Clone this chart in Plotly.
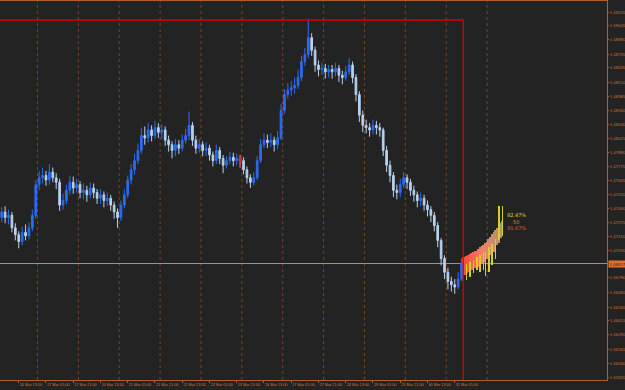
import plotly.graph_objects as go
from datetime import datetime, timedelta

# ---------------- data ----------------
start_time = datetime(2023, 3, 16, 3, 0)   # open time of first bar
bar_hours = 2
first_open = 1.0732

close = [1.0737, 1.0732, 1.0734, 1.0723, 1.0717, 1.0711, 1.0719, 1.0716, 1.0723, 1.0734,
         1.0761, 1.0767, 1.0769, 1.0765, 1.0772, 1.0767, 1.0763, 1.0743, 1.0747, 1.0756,
         1.0763, 1.0758, 1.0761, 1.0754, 1.0756, 1.0752, 1.0758, 1.0754, 1.0749, 1.0752,
         1.0747, 1.0749, 1.0743, 1.0737, 1.0732, 1.0743, 1.0752, 1.0765, 1.0774, 1.0782,
         1.0791, 1.0804, 1.0802, 1.0809, 1.0804, 1.0811, 1.0807, 1.0809, 1.0800, 1.0796,
         1.0791, 1.0796, 1.0793, 1.0800, 1.0804, 1.0813, 1.0800, 1.0793, 1.0796, 1.0791,
         1.0793, 1.0787, 1.0782, 1.0791, 1.0784, 1.0778, 1.0782, 1.0785, 1.0782, 1.0784,
         1.0782, 1.0774, 1.0767, 1.0763, 1.0767, 1.0782, 1.0796, 1.0800, 1.0798, 1.0800,
         1.0796, 1.0802, 1.0826, 1.0840, 1.0844, 1.0846, 1.0848, 1.0855, 1.0869, 1.0875,
         1.0890, 1.0879, 1.0866, 1.0862, 1.0863, 1.0860, 1.0862, 1.0860, 1.0863, 1.0857,
         1.0855, 1.0860, 1.0866, 1.0855, 1.0840, 1.0822, 1.0813, 1.0811, 1.0809, 1.0813,
         1.0811, 1.0809, 1.0791, 1.0778, 1.0769, 1.0756, 1.0754, 1.0761, 1.0767, 1.0763,
         1.0756, 1.0752, 1.0747, 1.0749, 1.0743, 1.0739, 1.0734, 1.0725, 1.0712, 1.0696,
         1.0684, 1.0676, 1.0673, 1.0671, 1.0678, 1.0692]

high = [1.0741, 1.0742, 1.0739, 1.0737, 1.0727, 1.0720, 1.0724, 1.0726, 1.0728, 1.0739,
        1.0765, 1.0773, 1.0776, 1.0773, 1.0779, 1.0776, 1.0771, 1.0766, 1.0753, 1.0761,
        1.0769, 1.0768, 1.0766, 1.0764, 1.0762, 1.0760, 1.0763, 1.0762, 1.0757, 1.0757,
        1.0755, 1.0754, 1.0752, 1.0746, 1.0740, 1.0747, 1.0757, 1.0769, 1.0779, 1.0788,
        1.0797, 1.0811, 1.0812, 1.0815, 1.0813, 1.0817, 1.0815, 1.0814, 1.0812, 1.0804,
        1.0799, 1.0801, 1.0800, 1.0805, 1.0810, 1.0825, 1.0816, 1.0804, 1.0801, 1.0799,
        1.0798, 1.0796, 1.0790, 1.0796, 1.0794, 1.0787, 1.0786, 1.0790, 1.0789, 1.0788,
        1.0787, 1.0785, 1.0777, 1.0770, 1.0772, 1.0786, 1.0801, 1.0806, 1.0805, 1.0806,
        1.0803, 1.0808, 1.0832, 1.0845, 1.0850, 1.0852, 1.0855, 1.0862, 1.0874, 1.0881,
        1.0906, 1.0894, 1.0882, 1.0870, 1.0868, 1.0867, 1.0866, 1.0866, 1.0868, 1.0866,
        1.0861, 1.0865, 1.0872, 1.0869, 1.0858, 1.0843, 1.0826, 1.0818, 1.0815, 1.0818,
        1.0817, 1.0815, 1.0811, 1.0795, 1.0782, 1.0772, 1.0761, 1.0766, 1.0772, 1.0770,
        1.0766, 1.0760, 1.0755, 1.0754, 1.0752, 1.0747, 1.0742, 1.0737, 1.0728, 1.0714,
        1.0699, 1.0688, 1.0680, 1.0678, 1.0684, 1.0696]

low = [1.0728, 1.0727, 1.0726, 1.0719, 1.0712, 1.0705, 1.0708, 1.0712, 1.0713, 1.0720,
       1.0731, 1.0756, 1.0762, 1.0760, 1.0761, 1.0763, 1.0757, 1.0738, 1.0739, 1.0744,
       1.0752, 1.0753, 1.0754, 1.0749, 1.0748, 1.0746, 1.0749, 1.0749, 1.0744, 1.0744,
       1.0741, 1.0742, 1.0738, 1.0731, 1.0723, 1.0729, 1.0740, 1.0749, 1.0761, 1.0770,
       1.0779, 1.0788, 1.0796, 1.0798, 1.0799, 1.0801, 1.0802, 1.0801, 1.0795, 1.0790,
       1.0784, 1.0786, 1.0788, 1.0790, 1.0797, 1.0800, 1.0795, 1.0788, 1.0789, 1.0786,
       1.0786, 1.0782, 1.0777, 1.0779, 1.0779, 1.0771, 1.0775, 1.0779, 1.0777, 1.0778,
       1.0776, 1.0770, 1.0762, 1.0758, 1.0760, 1.0765, 1.0780, 1.0793, 1.0793, 1.0794,
       1.0790, 1.0792, 1.0800, 1.0823, 1.0836, 1.0839, 1.0841, 1.0845, 1.0852, 1.0865,
       1.0872, 1.0874, 1.0860, 1.0856, 1.0857, 1.0854, 1.0855, 1.0854, 1.0856, 1.0851,
       1.0849, 1.0852, 1.0857, 1.0850, 1.0834, 1.0816, 1.0807, 1.0806, 1.0803, 1.0805,
       1.0805, 1.0803, 1.0786, 1.0772, 1.0763, 1.0750, 1.0748, 1.0750, 1.0758, 1.0757,
       1.0751, 1.0746, 1.0741, 1.0742, 1.0738, 1.0733, 1.0728, 1.0720, 1.0706, 1.0690,
       1.0678, 1.0669, 1.0667, 1.0665, 1.0669, 1.0676]

highlight_bar = 70          # the single red candle

tick_labels = ["16 Mar 13:00", "17 Mar 05:00", "17 Mar 21:00", "20 Mar 13:00",
               "21 Mar 05:00", "21 Mar 21:00", "22 Mar 13:00", "23 Mar 05:00",
               "23 Mar 21:00", "24 Mar 13:00", "27 Mar 05:00", "27 Mar 21:00",
               "28 Mar 13:00", "29 Mar 05:00", "29 Mar 21:00", "30 Mar 13:00",
               "31 Mar 05:00"]

price_labels = ["1.09125", "1.09005", "1.08880", "1.08755", "1.08635", "1.08510",
                "1.08385", "1.08260", "1.08140", "1.08015", "1.07890", "1.07770",
                "1.07645", "1.07520", "1.07400", "1.07275", "1.07150", "1.07030",
                "1.06790", "1.06665", "1.06535", "1.06415", "1.06290", "1.06165",
                "1.06040", "1.05920"]

current_price = 1.06917
rect_top = 1.09055

# forecast fan (hourly columns after the last bar)
fan_top = [1.0697, 1.0697, 1.0698, 1.0699, 1.0700, 1.0701, 1.0702, 1.0703, 1.0703, 1.0704,
           1.0706, 1.0707, 1.0708, 1.0710, 1.0711, 1.0713, 1.0715, 1.0718, 1.0719, 1.0721,
           1.0723, 1.0725, 1.0727, 1.0729]
fan_bottom = [1.0682, 1.0682, 1.0683, 1.0684, 1.0685, 1.0686, 1.0687, 1.0688, 1.0688, 1.0689,
              1.0690, 1.0691, 1.0693, 1.0694, 1.0696, 1.0697, 1.0699, 1.0701, 1.0702, 1.0705,
              1.0708, 1.0710, 1.0714, 1.0717]
whisker_cols = [2, 4, 6, 8, 10, 12, 13, 15, 17, 19, 21, 23]
whisker_high = [1.0691, 1.0693, 1.0695, 1.0697, 1.0699, 1.0701, 1.0702, 1.0706, 1.0709,
                1.0713, 1.0742, 1.0742]
whisker_low = [1.0677, 1.0680, 1.0683, 1.0686, 1.0684, 1.0686, 1.0681, 1.0684, 1.0690,
               1.0696, 1.0712, 1.0716]

stats_text = ["92.47%", "50", "91.67%"]
stats_price = [1.07345, 1.07285, 1.07225]

# ---------------- helpers ----------------
def trading_index(t):
    """bar index (2h units) of time t, skipping weekends"""
    h, cur = 0, start_time
    while cur < t:
        if cur.weekday() < 5:
            h += 1
        cur += timedelta(hours=1)
    return h / bar_hours

n = len(close)
opens = [first_open] + close[:-1]
xs = list(range(n))

tick_vals = [trading_index(datetime.strptime("2023 " + s, "%Y %d %b %H:%M")) for s in tick_labels]

x_min, x_max = -0.5, 177.7
y_min, y_max = 1.05894, 1.09222

fan_x = [n - 0.5 + 0.5 * k for k in range(len(fan_top))]
grid_end = fan_x[-1]

grid_x = []
d = datetime(2023, 3, 17)
while True:
    if d.weekday() < 5:
        gx = trading_index(d)
        if gx > grid_end:
            break
        grid_x.append(gx)
    d += timedelta(days=1)

BG = "#232323"
AX = "#b0602c"
TXT = "#c8763c"
FONT = "Liberation Sans"

fig = go.Figure()

fig.add_trace(go.Candlestick(
    x=xs, open=opens, high=high, low=low, close=close,
    increasing=dict(line=dict(color="#2c6cf2", width=1), fillcolor="#2c6cf2"),
    decreasing=dict(line=dict(color="#b8d2ee", width=1), fillcolor="#b8d2ee"),
    whiskerwidth=0, showlegend=False, hoverinfo="skip"))

hb = highlight_bar
fig.add_trace(go.Candlestick(
    x=[hb], open=[opens[hb]], high=[high[hb]], low=[low[hb]], close=[close[hb]],
    increasing=dict(line=dict(color="#e02020", width=1), fillcolor="#e02020"),
    decreasing=dict(line=dict(color="#e02020", width=1), fillcolor="#e02020"),
    whiskerwidth=0, showlegend=False, hoverinfo="skip"))

def lerp(c1, c2, t):
    return tuple(int(round(a + (b - a) * t)) for a, b in zip(c1, c2))

stops = [(255, 72, 52), (240, 130, 100), (168, 150, 118)]
fan_colors = []
m = len(fan_top)
for k in range(m):
    t = k / (m - 1)
    if t < 0.5:
        c = lerp(stops[0], stops[1], t / 0.5)
    else:
        c = lerp(stops[1], stops[2], (t - 0.5) / 0.5)
    fan_colors.append("rgb(%d,%d,%d)" % c)

fig.add_trace(go.Bar(
    x=fan_x, y=[t - b for t, b in zip(fan_top, fan_bottom)], base=fan_bottom,
    width=0.5, marker=dict(color=fan_colors, line=dict(width=0)),
    showlegend=False, hoverinfo="skip"))

fig.add_trace(go.Bar(
    x=[fan_x[c] for c in whisker_cols],
    y=[h - l for h, l in zip(whisker_high, whisker_low)], base=whisker_low,
    width=0.18, marker=dict(color="#d8d020", line=dict(width=0)),
    showlegend=False, hoverinfo="skip"))

shapes = []
for gx in grid_x:
    shapes.append(dict(type="line", xref="x", yref="paper", x0=gx, x1=gx, y0=0, y1=1,
                       line=dict(color="#7a4426", width=1, dash="3px,3px"), layer="below"))
# current price line
shapes.append(dict(type="line", xref="paper", yref="y", x0=0, x1=1,
                   y0=current_price, y1=current_price,
                   line=dict(color="#8a96a4", width=1), layer="below"))
# red rectangle object
red_x = n - 0.5
shapes.append(dict(type="line", xref="x", yref="y", x0=x_min, x1=red_x, y0=rect_top, y1=rect_top,
                   line=dict(color="#e00000", width=1.3)))
shapes.append(dict(type="line", xref="x", yref="y", x0=red_x, x1=red_x, y0=y_min, y1=rect_top,
                   line=dict(color="#e00000", width=1.3)))

annotations = []
stat_colors = ["#dcd83a", "#e07a3a", "#e05a3a"]
for s, p, c in zip(stats_text, stats_price, stat_colors):
    annotations.append(dict(x=151.0, y=p, xref="x", yref="y", text=s, showarrow=False,
                            font=dict(size=5, color=c, family="DejaVu Sans")))
annotations.append(dict(x=1, y=current_price, xref="paper", yref="y", xanchor="left",
                        xshift=1, text="%.5f" % current_price, showarrow=False,
                        bgcolor="#e07030", borderpad=0.5,
                        font=dict(size=4.3, color="#1a1a1a", family=FONT)))

fig.update_layout(
    width=625, height=390,
    margin=dict(l=0, r=18, t=1, b=10, autoexpand=False),
    paper_bgcolor=BG, plot_bgcolor=BG,
    barmode="overlay", bargap=0,
    shapes=shapes, annotations=annotations,
    xaxis=dict(range=[x_min, x_max], rangeslider=dict(visible=False),
               showgrid=False, zeroline=False, automargin=False,
               showline=True, linecolor=AX, linewidth=1, mirror=True,
               tickmode="array", tickvals=tick_vals, ticktext=tick_labels,
               ticks="outside", ticklen=2, tickcolor=AX, tickangle=0,
               ticklabelposition="outside right",
               tickfont=dict(size=3.8, color=TXT, family=FONT)),
    yaxis=dict(range=[y_min, y_max], side="right",
               showgrid=False, zeroline=False, automargin=False,
               showline=True, linecolor=AX, linewidth=1,
               tickmode="array", tickvals=[float(s) for s in price_labels], ticktext=price_labels,
               ticks="outside", ticklen=1, tickcolor=AX, ticklabelstandoff=0,
               tickfont=dict(size=4.3, color=TXT, family=FONT)),
)

fig.write_html("out.html")
